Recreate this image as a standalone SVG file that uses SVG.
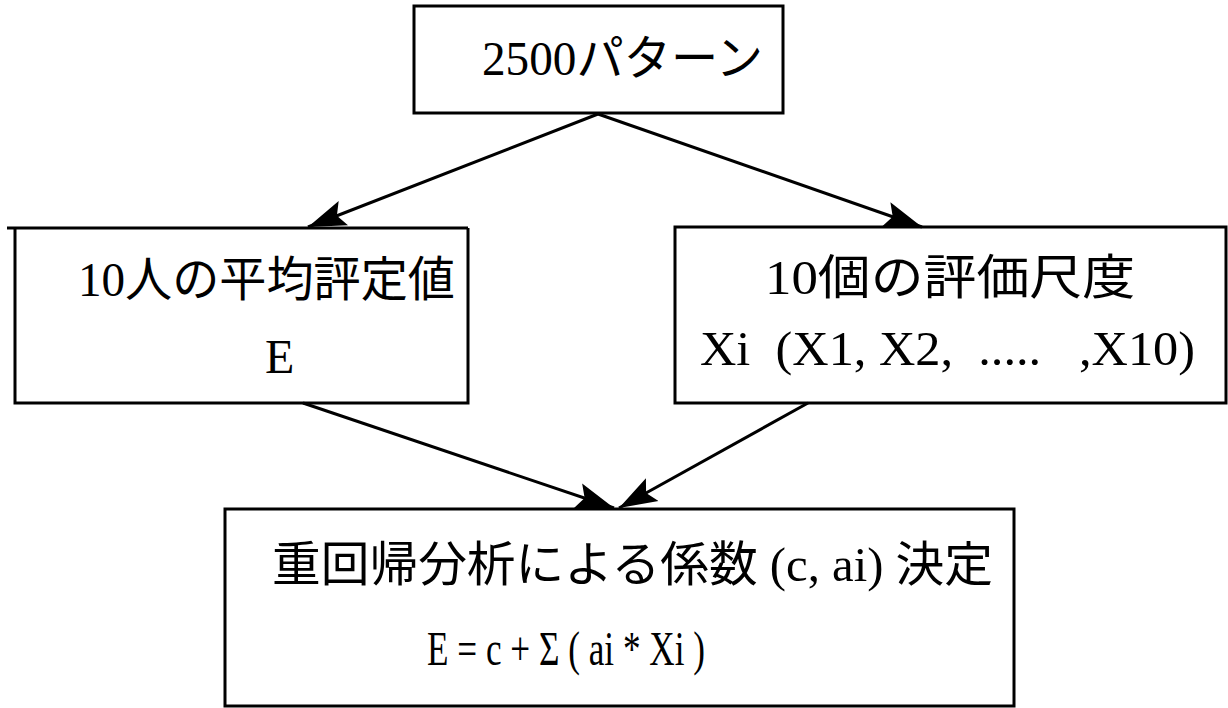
<svg xmlns="http://www.w3.org/2000/svg" width="1228" height="708" viewBox="0 0 1228 708">
<defs>
<style>
.box{fill:none;stroke:#000;stroke-width:3}
.t{font-family:"Liberation Serif","Noto Sans CJK JP",serif;fill:#000;font-size:48px}
.c{stroke:#000;stroke-width:3;fill:none;marker-end:url(#ah)}
</style>
<marker id="ah" markerUnits="userSpaceOnUse" markerWidth="40" markerHeight="28" refX="38" refY="14" orient="auto">
<path d="M0,1 L38,14 L0,27 L7,14 Z" fill="#000"/>
</marker>
</defs>
<rect width="1228" height="708" fill="#fff"/>
<g id="connectors">
<line class="c" x1="598" y1="114" x2="308" y2="227"/>
<line class="c" x1="598" y1="114" x2="922" y2="227"/>
<line class="c" x1="303" y1="403" x2="614" y2="508"/>
<line class="c" x1="808" y1="403" x2="619" y2="508"/>
</g>
<g id="n-top">
<rect class="box" x="414" y="6" width="369" height="107"/>
<text class="t" x="482" y="75" textLength="281" lengthAdjust="spacingAndGlyphs">2500パターン</text>
</g>
<g id="n-left">
<line class="box" x1="7" y1="228" x2="468" y2="228"/>
<path class="box" d="M15,228 V403 H468 V228"/>
<text class="t" x="78" y="296" textLength="377" lengthAdjust="spacingAndGlyphs">10人の平均評定値</text>
<text class="t" x="265" y="373">E</text>
</g>
<g id="n-right">
<rect class="box" x="675" y="227" width="551" height="176"/>
<text class="t" x="765" y="294" textLength="370" lengthAdjust="spacingAndGlyphs">10個の評価尺度</text>
<text class="t" x="700" y="365" textLength="495" lengthAdjust="spacingAndGlyphs" xml:space="preserve">Xi  (X1, X2,  .....   ,X10)</text>
</g>
<g id="n-bottom">
<rect class="box" x="225" y="509" width="789" height="197"/>
<text class="t" x="272" y="581" textLength="721" lengthAdjust="spacingAndGlyphs">重回帰分析による係数 (c, ai) 決定</text>
<text class="t" x="427" y="665" font-size="50" textLength="278" lengthAdjust="spacingAndGlyphs">E = c + Σ ( ai * Xi )</text>
</g>
</svg>
